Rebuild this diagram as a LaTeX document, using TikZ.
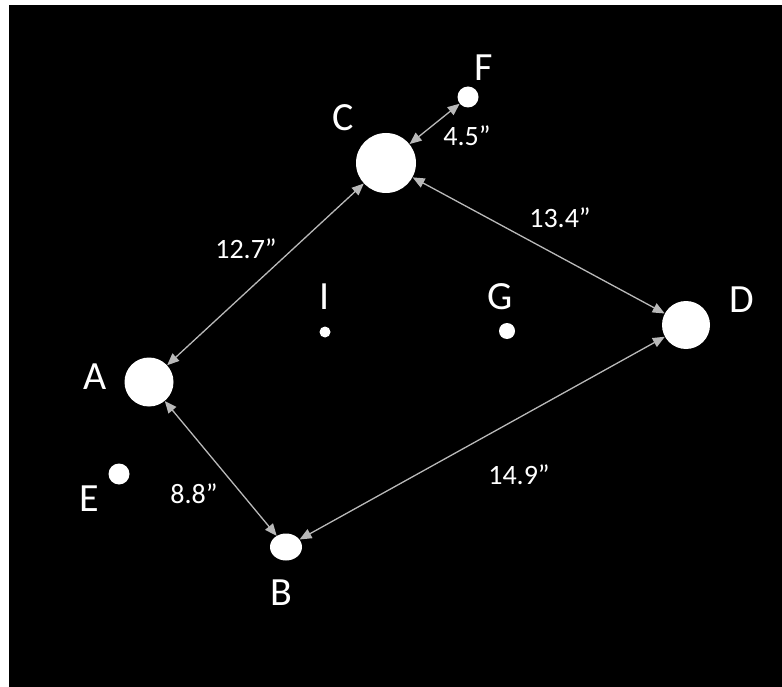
\documentclass[tikz,border=0pt]{standalone}
\usepackage{fontspec}
\setmainfont{Carlito}
\usepackage{tikz}
\usetikzlibrary{arrows.meta,shapes.geometric}

\begin{document}
\begin{tikzpicture}[x=1pt, y=-1pt,
    dot/.style={circle, fill=white, inner sep=0pt, minimum size=#1},
    starlabel/.style={white, inner sep=0pt, font=\fontsize{40}{40}\selectfont},
    seplabel/.style={white, inner sep=0pt, font=\fontsize{28}{28}\selectfont},
    link/.style={gray!55, line width=1.3pt,
      {Triangle[length=12pt,width=10pt]}-{Triangle[length=12pt,width=10pt]}}]
  % Background
  \fill[white] (0,0) rectangle (782,687);
  \fill[black] (9,5) rectangle (782,687);
  % The stars
  \node[dot=60pt] (c) at (386,163) {};
  \node[dot=21pt] (f) at (468,97) {};
  \node[dot=49pt] (a) at (149,382) {};
  \node[dot=21pt] (e) at (119,474) {};
  \node[ellipse, fill=white, inner sep=0pt, minimum width=32pt, minimum height=27pt] (b) at (286,547) {};
  \node[dot=48pt] (d) at (686,325) {};
  \node[dot=11pt] (i) at (325,332) {};
  \node[dot=16pt] (g) at (507,331) {};
  % Separations
  \draw[link] (c) -- (f);
  \draw[link] (c) -- (a);
  \draw[link] (c) -- (d);
  \draw[link] (a) -- (b);
  \draw[link] (d) -- (b);
  % Labels
  \node[starlabel] (cl) at (343,118) {C};
  \node[starlabel] (fl) at (484,68) {F};
  \node[starlabel] (al) at (95,377) {A};
  \node[starlabel] (el) at (89,499) {E};
  \node[starlabel] (bl) at (281,593) {B};
  \node[starlabel] (dl) at (742,300) {D};
  \node[starlabel] (il) at (325,297) {I};
  \node[starlabel] (gl) at (500,297) {G};
  \node[seplabel] (cf) at (467,136) {4.5”};
  \node[seplabel] (cd) at (560,218) {13.4”};
  \node[seplabel] (ca) at (246,249) {12.7”};
  \node[seplabel] (ab) at (194,494) {8.8”};
  \node[seplabel] (db) at (519,475) {14.9”};
\end{tikzpicture}
\end{document}
